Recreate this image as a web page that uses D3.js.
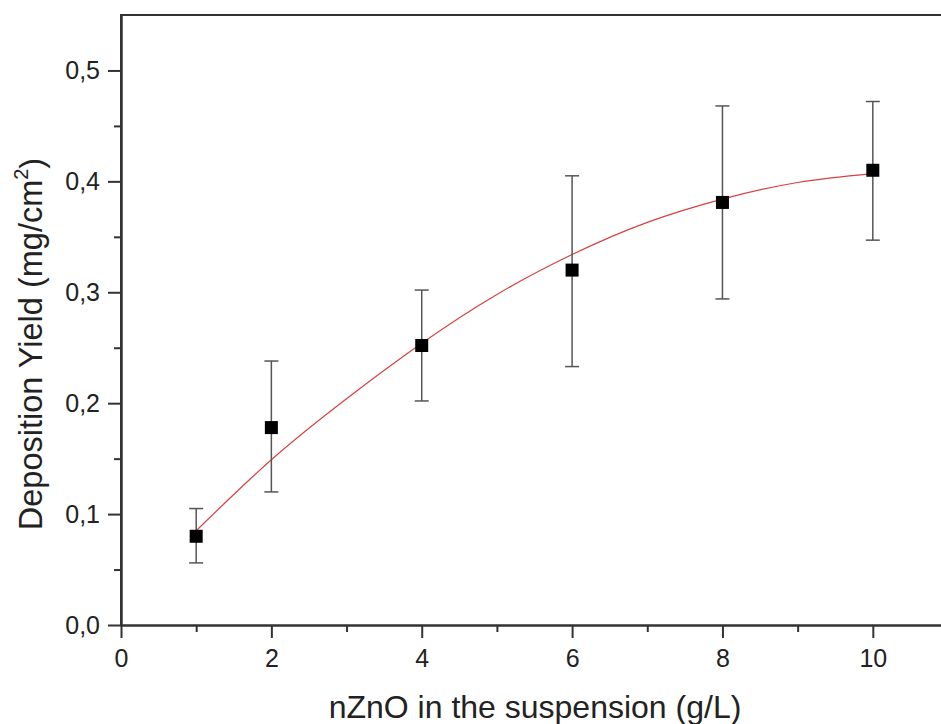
<!DOCTYPE html>
<html>
<head>
<meta charset="utf-8">
<script src="https://cdn.jsdelivr.net/npm/d3@7/dist/d3.min.js"></script>
<style>
html,body{margin:0;padding:0;background:#fff;}
svg{display:block;}
text{font-family:"Liberation Sans",Arial,sans-serif;fill:#222;}
</style>
</head>
<body>
<svg id="chart" width="941" height="724"></svg>
<script>
// ---- data ----
const concentrations = [1, 2, 4, 6, 8, 10];          // g/L
const yieldValues    = [0.080, 0.178, 0.252, 0.320, 0.381, 0.410];
const errLow         = [0.056, 0.120, 0.202, 0.233, 0.294, 0.347];
const errHigh        = [0.105, 0.238, 0.302, 0.405, 0.468, 0.472];
// fitted curve
const fitX = [1, 2, 3, 4, 5, 6, 7, 8, 9, 10];
const fitY = [0.085, 0.149, 0.204, 0.254, 0.298, 0.334, 0.363, 0.384, 0.399, 0.407];
const xTicks = [0, 2, 4, 6, 8, 10];
const xMinorTicks = [1, 3, 5, 7, 9, 11];
const yTicks = [0, 0.1, 0.2, 0.3, 0.4, 0.5];
const yMinorTicks = [0.05, 0.15, 0.25, 0.35, 0.45];
const xTitle = "nZnO in the suspension (g/L)";

(function () {
const svg = d3.select("#chart");
const mLeft = 121, mRight = 948, mTop = 15, mBottom = 625;
const x = d3.scaleLinear().domain([0, 11]).range([mLeft, mRight]);
const y = d3.scaleLinear().domain([0, 0.55]).range([mBottom, mTop]);
const fmt = d => d3.format(".1f")(d).replace(".", ",");
const axisColor = "#333";

// fit curve
const line = d3.line().x(d => x(d[0])).y(d => y(d[1])).curve(d3.curveNatural);
svg.append("path")
  .datum(fitX.map((v, i) => [v, fitY[i]]))
  .attr("d", line).attr("fill", "none")
  .attr("stroke", "#d94040").attr("stroke-width", 1.2);

// error bars
const pts = concentrations.map((c, i) => ({c, v: yieldValues[i], lo: errLow[i], hi: errHigh[i]}));
const eb = svg.append("g").attr("stroke", "#555").attr("stroke-width", 1.5);
pts.forEach(p => {
  eb.append("line").attr("x1", x(p.c)).attr("x2", x(p.c)).attr("y1", y(p.lo)).attr("y2", y(p.hi));
  [p.lo, p.hi].forEach(v => eb.append("line")
    .attr("x1", x(p.c) - 7).attr("x2", x(p.c) + 7).attr("y1", y(v)).attr("y2", y(v)));
});

// squares
const sq = 13;
svg.append("g").selectAll("rect").data(pts).join("rect")
  .attr("x", d => x(d.c) - sq / 2).attr("y", d => y(d.v) - sq / 2)
  .attr("width", sq).attr("height", sq).attr("fill", "#000");

// axes
const xAxis = d3.axisBottom(x).tickValues(xTicks).tickFormat(d3.format("d")).tickSize(13).tickSizeOuter(0);
const gx = svg.append("g").attr("transform", `translate(0,${mBottom})`).call(xAxis);
const xMinor = d3.axisBottom(x).tickValues(xMinorTicks).tickFormat("").tickSize(7).tickSizeOuter(0);
const gxm = svg.append("g").attr("transform", `translate(0,${mBottom})`).call(xMinor);
const yAxis = d3.axisLeft(y).tickValues(yTicks).tickFormat(fmt).tickSize(13).tickSizeOuter(0);
const gy = svg.append("g").attr("transform", `translate(${mLeft},0)`).call(yAxis);
const yMinor = d3.axisLeft(y).tickValues(yMinorTicks).tickFormat("").tickSize(7).tickSizeOuter(0);
const gym = svg.append("g").attr("transform", `translate(${mLeft},0)`).call(yMinor);
[gx, gxm, gy, gym].forEach(g => {
  g.select(".domain").attr("stroke", axisColor).attr("stroke-width", 2);
  g.selectAll(".tick line").attr("stroke", axisColor).attr("stroke-width", 2);
});
gx.selectAll(".tick text").attr("font-size", 25).attr("y", 24).attr("fill", "#222");
gy.selectAll(".tick text").attr("font-size", 25).attr("x", -21).attr("fill", "#222");

// frame
svg.append("line").attr("x1", mLeft - 1).attr("x2", mRight).attr("y1", mTop).attr("y2", mTop)
  .attr("stroke", axisColor).attr("stroke-width", 2);
svg.append("line").attr("x1", mRight).attr("x2", mRight).attr("y1", mTop).attr("y2", mBottom)
  .attr("stroke", axisColor).attr("stroke-width", 2);
svg.append("line").attr("x1", mLeft).attr("x2", mLeft).attr("y1", mTop).attr("y2", mBottom)
  .attr("stroke", axisColor).attr("stroke-width", 2);

// titles
svg.append("text").attr("x", 535).attr("y", 718).attr("text-anchor", "middle")
  .attr("font-size", 32).text(xTitle);
const yt = svg.append("text").attr("transform", "translate(42,344) rotate(-90)")
  .attr("text-anchor", "middle").attr("font-size", 32.5);
yt.append("tspan").text("Deposition Yield (mg/cm");
yt.append("tspan").attr("font-size", 20).attr("dy", "-0.7em").text("2");
yt.append("tspan").attr("dy", "0.45em").text(")");
})();
</script>
</body>
</html>
